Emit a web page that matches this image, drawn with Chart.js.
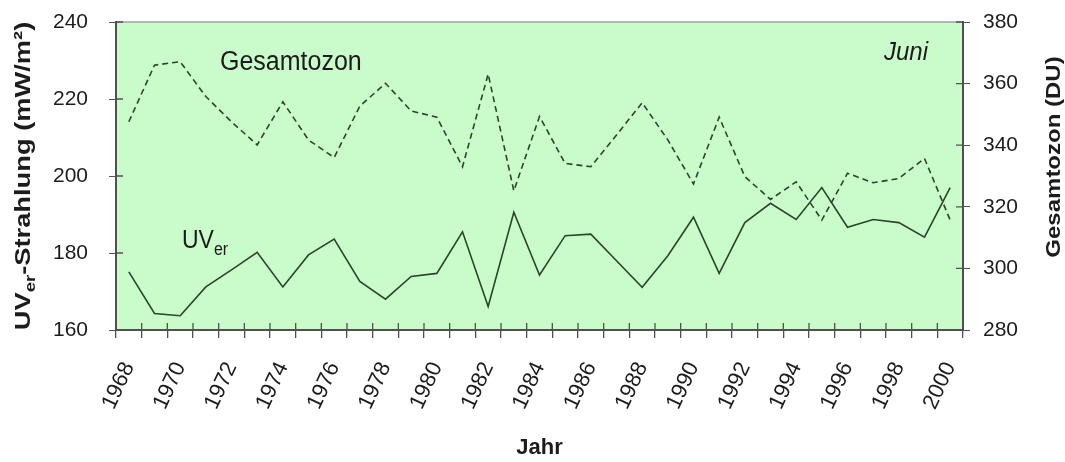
<!DOCTYPE html>
<html lang="de">
  <head>
    <meta charset="UTF-8" />
    <title>UVer-Strahlung und Gesamtozon, Juni</title>
    <script src="https://cdn.jsdelivr.net/npm/chart.js"></script>
    <style>
      html, body { margin: 0; padding: 0; background: #fff; }
      #wrap { width: 1065px; height: 462px; position: relative; }
    </style>
  </head>
  <body>
    <div id="wrap"><canvas id="chart"></canvas></div>

    <script>
      // Jahre 1968 - 2000
      const years = [
        "1968", "1969", "1970", "1971", "1972", "1973", "1974", "1975", "1976",
        "1977", "1978", "1979", "1980", "1981", "1982", "1983", "1984", "1985",
        "1986", "1987", "1988", "1989", "1990", "1991", "1992", "1993", "1994",
        "1995", "1996", "1997", "1998", "1999", "2000",
      ];
      // UVer-Strahlung (mW/m²), linke Achse
      const uvValues = [
        175.1, 164.3, 163.7, 171.2, 175.6, 180.2, 171.2, 179.5, 183.6, 172.6,
        168.0, 173.9, 174.7, 185.5, 166.1, 190.6, 174.3, 184.5, 184.9, 178.0,
        171.1, 179.3, 189.3, 174.7, 187.9, 192.9, 188.7, 197.0, 186.7, 188.7,
        187.9, 184.1, 197.0,
      ];
      // Gesamtozon (DU), rechte Achse
      const ozoneValues = [
        347.6, 366.0, 367.1, 355.8, 347.6, 340.1, 354.1, 341.7, 336.0, 352.7,
        360.1, 351.1, 349.1, 333.0, 363.1, 325.2, 349.3, 334.1, 333.0, 343.3,
        353.8, 341.7, 327.4, 349.1, 329.8, 322.4, 328.1, 315.7, 330.9, 327.8,
        329.2, 335.7, 315.7,
      ];
      const uvTicks = { min: 160, max: 240, step: 20 };
      const ozoneTicks = { min: 280, max: 380, step: 20 };

      const FONT = "'Liberation Sans', Arial, sans-serif";
      const INK = "#1c1c1c";
      const LINE = "#2a452a";
      const AXIS = "#505050";

      // draws a run of text pieces (for subscripts), rotated and stretched
      function drawRuns(ctx, runs, x, y, rot, sx, sy, align) {
        ctx.save();
        ctx.translate(x, y);
        ctx.rotate(rot);
        ctx.scale(sx, sy);
        ctx.textBaseline = "alphabetic";
        ctx.textAlign = "left";
        let total = 0;
        runs.forEach(function (r) {
          ctx.font = r.font;
          r.w = ctx.measureText(r.text).width;
          total += r.w;
        });
        let cx = align === "center" ? -total / 2 : align === "right" ? -total : 0;
        runs.forEach(function (r) {
          ctx.font = r.font;
          ctx.fillStyle = INK;
          ctx.fillText(r.text, cx, r.dy || 0);
          cx += r.w;
        });
        ctx.restore();
      }

      const plotDecor = {
        id: "plotDecor",
        beforeDraw(chart) {
          const { ctx, chartArea: a } = chart;
          ctx.save();
          ctx.fillStyle = "#cafccb";
          ctx.fillRect(a.left, a.top, a.right - a.left, a.bottom - a.top);
          ctx.strokeStyle = "#a0a0a0";
          ctx.lineWidth = 1.5;
          ctx.beginPath();
          ctx.moveTo(a.left, a.top);
          ctx.lineTo(a.right, a.top);
          ctx.stroke();
          ctx.restore();
        },
        afterDatasetsDraw(chart) {
          // short tick marks reaching into the plot, as in the original
          const { ctx, chartArea: a, scales } = chart;
          ctx.save();
          ctx.strokeStyle = AXIS;
          ctx.lineWidth = 1.3;
          ctx.beginPath();
          for (let i = 0; i <= years.length; i++) {
            const x = scales.x.getPixelForValue(i - 0.5);
            ctx.moveTo(x, a.bottom);
            ctx.lineTo(x, a.bottom - 7);
          }
          scales.y.ticks.forEach(function (t) {
            const y = scales.y.getPixelForValue(t.value);
            ctx.moveTo(a.left, y);
            ctx.lineTo(a.left + 7, y);
          });
          scales.y1.ticks.forEach(function (t) {
            const y = scales.y1.getPixelForValue(t.value);
            ctx.moveTo(a.right, y);
            ctx.lineTo(a.right - 7, y);
          });
          ctx.stroke();
          ctx.restore();
        },
        afterDraw(chart) {
          const { ctx, chartArea: a } = chart;
          const mid = (a.top + a.bottom) / 2;
          // linke Achsenbeschriftung
          drawRuns(ctx, [
            { text: "UV", font: "bold 22px " + FONT },
            { text: "er", font: "bold 15px " + FONT, dy: 5 },
            { text: "-Strahlung (mW/m²)", font: "bold 22px " + FONT },
          ], 30, mid, -Math.PI / 2, 1.24, 1, "center");
          // rechte Achsenbeschriftung
          drawRuns(ctx, [{ text: "Gesamtozon (DU)", font: "bold 20px " + FONT }],
            1060, mid - 19, -Math.PI / 2, 1.2, 1, "center");
          // Beschriftungen im Diagramm
          drawRuns(ctx, [{ text: "Gesamtozon", font: "25px " + FONT }],
            a.left + 104, a.top + 48, 0, 1, 1.08, "left");
          drawRuns(ctx, [
            { text: "UV", font: "23px " + FONT },
            { text: "er", font: "16px " + FONT, dy: 6 },
          ], a.left + 66, a.top + 226, 0, 1, 1.1, "left");
          drawRuns(ctx, [{ text: "Juni", font: "italic 24px " + FONT }],
            a.right - 35, a.top + 38, 0, 1, 1.1, "right");
        },
      };

      function fixWidth(w) {
        return function (scale) {
          scale.width = w;
          scale.paddingTop = 0;
          scale.paddingBottom = 0;
        };
      }

      const ctx = document.getElementById("chart");
      new Chart(ctx, {
        type: "line",
        data: {
          labels: years,
          datasets: [
            {
              label: "UVer",
              data: uvValues,
              yAxisID: "y",
              borderColor: LINE,
              borderWidth: 1.6,
              pointRadius: 0,
              tension: 0,
              fill: false,
            },
            {
              label: "Gesamtozon",
              data: ozoneValues,
              yAxisID: "y1",
              borderColor: LINE,
              borderWidth: 1.6,
              borderDash: [6, 4],
              pointRadius: 0,
              tension: 0,
              fill: false,
            },
          ],
        },
        options: {
          responsive: true,
          maintainAspectRatio: false,
          animation: false,
          layout: { padding: { top: 22, left: 0, right: 0, bottom: 0 } },
          plugins: { legend: { display: false }, tooltip: { enabled: false } },
          scales: {
            x: {
              offset: true,
              grid: {
                offset: true,
                drawOnChartArea: false,
                tickLength: 8,
                color: AXIS,
                lineWidth: 1.3,
              },
              border: { color: AXIS, width: 2 },
              ticks: {
                autoSkip: false,
                minRotation: 65,
                maxRotation: 65,
                padding: 20,
                color: INK,
                font: { family: FONT, size: 22 },
                callback: function (value, index) {
                  return index % 2 === 0 ? years[index] : "";
                },
              },
              title: {
                display: true,
                text: "Jahr",
                color: INK,
                font: { family: FONT, size: 22, weight: "bold" },
                padding: { top: 0, bottom: 1 },
              },
              afterFit: function (scale) {
                scale.height = 132;
                scale.paddingLeft = 0;
                scale.paddingRight = 0;
              },
            },
            y: {
              position: "left",
              min: uvTicks.min,
              max: uvTicks.max,
              grid: { drawOnChartArea: false, tickLength: 7, color: AXIS },
              border: { color: AXIS, width: 2 },
              ticks: {
                stepSize: uvTicks.step,
                padding: 21,
                color: INK,
                font: { family: FONT, size: 21 },
              },
              afterFit: fixWidth(116),
            },
            y1: {
              position: "right",
              min: ozoneTicks.min,
              max: ozoneTicks.max,
              grid: { drawOnChartArea: false, tickLength: 7, color: AXIS },
              border: { color: AXIS, width: 2 },
              ticks: {
                stepSize: ozoneTicks.step,
                padding: 13,
                color: INK,
                font: { family: FONT, size: 21 },
              },
              afterFit: fixWidth(102),
            },
          },
        },
        plugins: [plotDecor],
      });
    </script>
  </body>
</html>
